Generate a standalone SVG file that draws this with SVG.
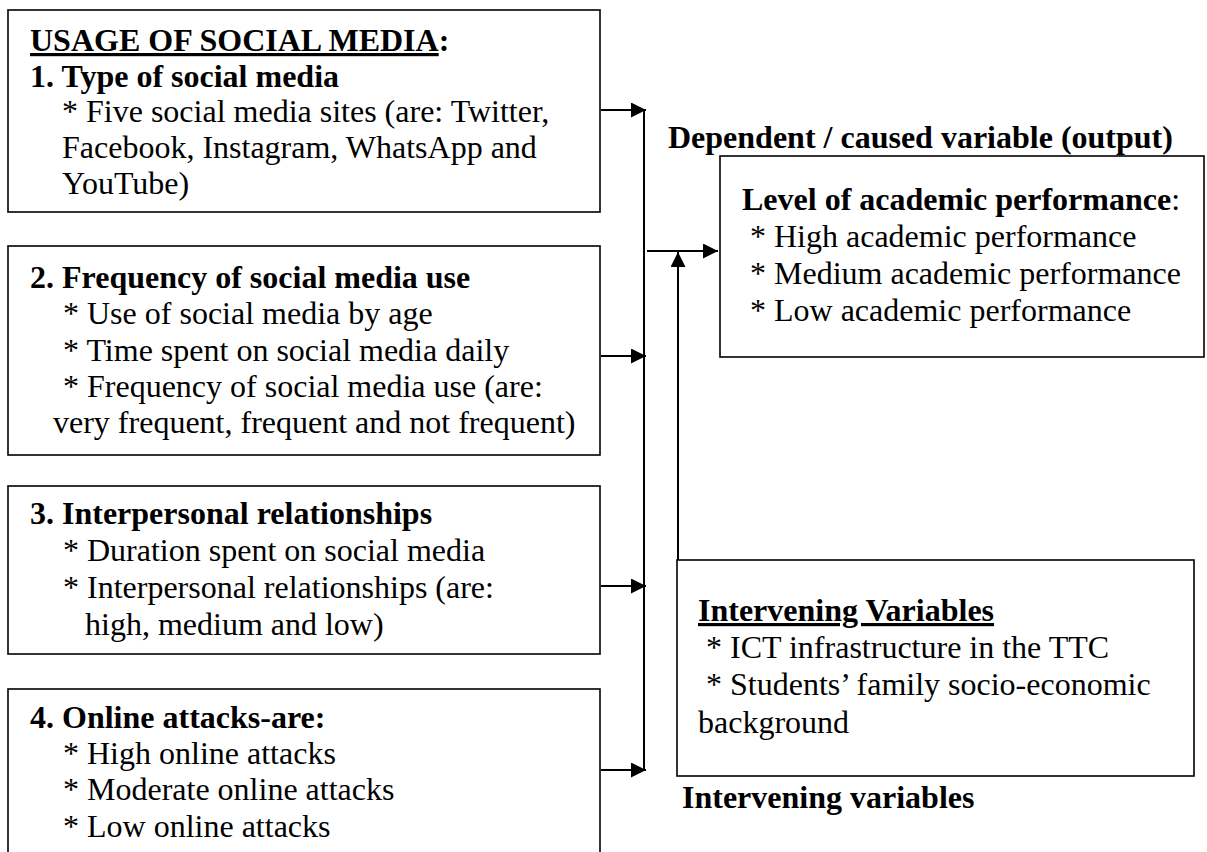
<svg xmlns="http://www.w3.org/2000/svg" width="1207" height="852" viewBox="0 0 1207 852">
<style>
  text { font-family: "Liberation Serif", "Times New Roman", serif; font-size: 32px; fill: #000; }
  .b { font-weight: bold; }
  .u { text-decoration: underline; }
  .box { fill: #fff; stroke: #000; stroke-width: 1.6; }
  .con { stroke: #000; stroke-width: 2; fill: none; }
</style>
<defs>
  <marker id="ah" markerWidth="15" markerHeight="15" refX="15" refY="7.5" orient="auto" markerUnits="userSpaceOnUse">
    <path d="M0,0 L15,7.5 L0,15 Z" fill="#000"/>
  </marker>
</defs>
<rect width="1207" height="852" fill="#fff"/>

<g id="connectors">
  <line class="con" x1="644" y1="109" x2="644" y2="771"/>
  <line class="con" x1="601" y1="110" x2="646" y2="110" marker-end="url(#ah)"/>
  <line class="con" x1="601" y1="356" x2="646" y2="356" marker-end="url(#ah)"/>
  <line class="con" x1="601" y1="586" x2="646" y2="586" marker-end="url(#ah)"/>
  <line class="con" x1="601" y1="770" x2="646" y2="770" marker-end="url(#ah)"/>
  <line class="con" x1="647" y1="251" x2="718" y2="251" marker-end="url(#ah)"/>
  <line class="con" x1="678" y1="560" x2="678" y2="252" marker-end="url(#ah)"/>
</g>

<g id="box1">
  <rect class="box" x="8" y="10" width="592" height="202"/>
  <text class="b" x="30" y="51"><tspan class="u">USAGE OF SOCIAL MEDIA</tspan>:</text>
  <text class="b" x="30" y="87">1. Type of social media</text>
  <text x="62" y="122">* Five social media sites (are: Twitter,</text>
  <text x="62" y="158">Facebook, Instagram, WhatsApp and</text>
  <text x="62" y="194">YouTube)</text>
</g>

<g id="box2">
  <rect class="box" x="8" y="246" width="592" height="209"/>
  <text class="b" x="30" y="288">2. Frequency of social media use</text>
  <text x="63" y="324">* Use of social media by age</text>
  <text x="63" y="361">* Time spent on social media daily</text>
  <text x="63" y="397">* Frequency of social media use (are:</text>
  <text x="53" y="433">very frequent, frequent and not frequent)</text>
</g>

<g id="box3">
  <rect class="box" x="8" y="486" width="592" height="168"/>
  <text class="b" x="30" y="524">3. Interpersonal relationships</text>
  <text x="63" y="561">* Duration spent on social media</text>
  <text x="63" y="598">* Interpersonal relationships (are:</text>
  <text x="85" y="635">high, medium and low)</text>
</g>

<g id="box4">
  <rect class="box" x="8" y="689" width="592" height="200"/>
  <text class="b" x="30" y="728">4. Online attacks-are:</text>
  <text x="63" y="764">* High online attacks</text>
  <text x="63" y="800">* Moderate online attacks</text>
  <text x="63" y="837">* Low online attacks</text>
</g>

<g id="output">
  <text class="b" x="668" y="148">Dependent / caused variable (output)</text>
  <rect class="box" x="720" y="156" width="484" height="201"/>
  <text x="742" y="210"><tspan class="b">Level of academic performance</tspan>:</text>
  <text x="750" y="247">* High academic performance</text>
  <text x="750" y="284">* Medium academic performance</text>
  <text x="750" y="321">* Low academic performance</text>
</g>

<g id="intervening">
  <rect class="box" x="677" y="560" width="517" height="216"/>
  <text class="b u" x="698" y="621">Intervening Variables</text>
  <text x="706" y="658">* ICT infrastructure in the TTC</text>
  <text x="706" y="695">* Students’ family socio-economic</text>
  <text x="698" y="733">background</text>
  <text class="b" x="682" y="808">Intervening variables</text>
</g>
</svg>
